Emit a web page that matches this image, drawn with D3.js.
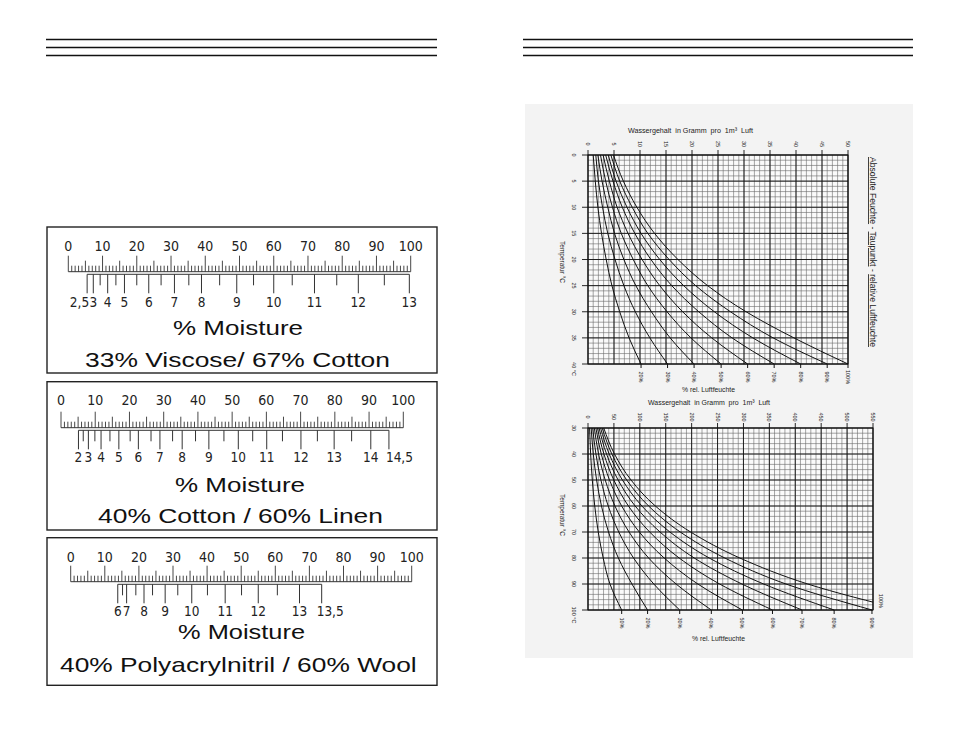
<!DOCTYPE html>
<html>
<head>
<meta charset="utf-8">
<script src="https://cdn.jsdelivr.net/npm/d3@7.9.0/dist/d3.min.js"></script>
<style>
  body { margin: 0; background: #fff; }
  .rule { font-family: "Liberation Sans Narrow", "DejaVu Sans Condensed", sans-serif; fill: #222; }
  .big { font-family: "Liberation Sans", Arial, sans-serif; fill: #111; }
  .small { font-family: "Liberation Sans", Arial, sans-serif; fill: #222; }
</style>
</head>
<body>
<svg id="page" width="954" height="737"></svg>
<script>
// ---- moisture rulers: moisture value -> reading on the 0..100 scale
const rulerLabels = [0, 10, 20, 30, 40, 50, 60, 70, 80, 90, 100];

const viscoseMoisture = [2.5, 3, 3.5, 4, 4.5, 5, 5.5, 6, 6.5, 7, 7.5, 8, 8.5, 9, 9.5, 10, 10.5, 11, 11.5, 12, 12.5, 13];
const viscoseReading  = [5.5, 7.3, 9.3, 11.5, 13.9, 16.4, 20.0, 23.5, 27.1, 31.0, 35.2, 38.9, 44.2, 49.2, 54.1, 60.0, 65.4, 71.9, 78.4, 84.7, 92.3, 99.6];
const viscoseLabels   = [2.5, 3, 4, 5, 6, 7, 8, 9, 10, 11, 12, 13];

const linenMoisture = [2, 2.5, 3, 3.5, 4, 4.5, 5, 5.5, 6, 6.5, 7, 7.5, 8, 8.5, 9, 9.5, 10, 10.5, 11, 11.5, 12, 12.5, 13, 13.5, 14, 14.5];
const linenReading  = [5.1, 6.5, 8.0, 9.9, 11.7, 14.3, 16.9, 20.2, 22.6, 26.3, 28.9, 32.6, 35.4, 39.3, 43.2, 47.6, 51.8, 56.0, 60.1, 64.7, 70.1, 74.9, 79.8, 84.9, 90.5, 95.8];
const linenLabels   = [2, 3, 4, 5, 6, 7, 8, 9, 10, 11, 12, 13, 14, 14.5];

const woolMoisture = [6, 6.5, 7, 7.5, 8, 8.5, 9, 9.5, 10, 10.5, 11, 11.5, 12, 12.5, 13, 13.5];
const woolReading  = [13.8, 15.2, 16.4, 19.1, 21.5, 24.0, 27.7, 31.4, 35.5, 40.1, 45.3, 50.1, 55.0, 60.6, 67.1, 73.6];
const woolLabels   = [6, 7, 8, 9, 10, 11, 12, 13, 13.5];

// ---- humidity charts: water content (g per m3) at each temperature, one row per rel. humidity
const temps1 = [0, 5, 10, 15, 20, 25, 30, 35, 40];
const rh1 = [20, 30, 40, 50, 60, 70, 80, 90, 100];
const water1 = [
  [1.0, 1.4, 1.9, 2.6, 3.5, 4.6, 6.1, 7.9, 10.2],
  [1.5, 2.0, 2.8, 3.8, 5.2, 6.9, 9.1, 11.9, 15.3],
  [1.9, 2.7, 3.8, 5.1, 6.9, 9.2, 12.2, 15.8, 20.4],
  [2.4, 3.4, 4.7, 6.4, 8.7, 11.5, 15.2, 19.8, 25.6],
  [2.9, 4.1, 5.6, 7.7, 10.4, 13.8, 18.2, 23.8, 30.7],
  [3.4, 4.8, 6.6, 9.0, 12.1, 16.1, 21.3, 27.7, 35.8],
  [3.9, 5.4, 7.5, 10.2, 13.8, 18.4, 24.3, 31.7, 40.9],
  [4.4, 6.1, 8.5, 11.5, 15.6, 20.7, 27.4, 35.6, 46.0],
  [4.9, 6.8, 9.4, 12.8, 17.3, 23.0, 30.4, 39.6, 50.0]
];
const xLabels1 = [0, 5, 10, 15, 20, 25, 30, 35, 40, 45, 50];
const yLabels1 = [0, 5, 10, 15, 20, 25, 30, 35, 40];

const temps2 = [30, 40, 50, 60, 70, 80, 90, 100];
const rh2 = [10, 20, 30, 40, 50, 60, 70, 80, 90, 100];
const water2 = [
  [3.0, 5.1, 8.3, 13, 19.8, 29.3, 42.4, 65],
  [6.1, 10.2, 16.6, 26, 39.6, 58.6, 84.8, 115],
  [9.1, 15.3, 24.9, 39, 59.4, 87.9, 127, 177],
  [12.2, 20.4, 33.2, 52, 79.2, 117, 170, 238],
  [15.2, 25.6, 41.5, 65, 99, 147, 212, 298],
  [18.2, 30.7, 49.8, 78, 119, 176, 254, 356],
  [21.3, 35.8, 58.1, 91, 139, 205, 297, 413],
  [24.3, 40.9, 66.4, 104, 158, 234, 339, 475],
  [27.4, 46.0, 74.7, 117, 178, 264, 382, 548],
  [30.4, 51.1, 83.0, 130, 198, 293, 424, 610]
];
const xLabels2 = [0, 50, 100, 150, 200, 250, 300, 350, 400, 450, 500, 550];
const yLabels2 = [30, 40, 50, 60, 70, 80, 90, 100];

const svg = d3.select("#page");

// header rules on both pages
[[46, 437], [523, 913]].forEach(([x1, x2]) => {
  [39.5, 47.5, 55.5].forEach(y => {
    svg.append("line").attr("x1", x1).attr("x2", x2).attr("y1", y).attr("y2", y)
      .attr("stroke", "#111").attr("stroke-width", 1.3);
  });
});

// ---------- rulers ----------
const boxes = [
  { y: 227, h: 146, r0: 68.3, r1: 410.7, lineY: 271.7, topY: 251, labY: 307, moistY: 335, titleY: 366.7,
    moistX: [173, 303], titleX: [85, 390], title: "33% Viscose/ 67% Cotton",
    moisture: viscoseMoisture, reading: viscoseReading, labels: viscoseLabels },
  { y: 381.7, h: 148.3, r0: 61, r1: 403.3, lineY: 427.7, topY: 405, labY: 462, moistY: 491.7, titleY: 522.7,
    moistX: [175, 305], titleX: [98, 383], title: "40% Cotton / 60% Linen",
    moisture: linenMoisture, reading: linenReading, labels: linenLabels },
  { y: 537.7, h: 147.6, r0: 70.7, r1: 411.7, lineY: 581.7, topY: 561.7, labY: 615.5, moistY: 638.5, titleY: 671.7,
    moistX: [178, 305], titleX: [60, 416.7], title: "40% Polyacrylnitril / 60% Wool",
    moisture: woolMoisture, reading: woolReading, labels: woolLabels }
];

function fmt(v) { return String(v).replace(".", ","); }

boxes.forEach((b, bi) => {
  let g = svg.append("g");
  g.append("rect").attr("x", 47).attr("y", b.y).attr("width", 390).attr("height", b.h)
    .attr("fill", "#fff").attr("stroke", "#222").attr("stroke-width", 1.4);

  let x = d3.scaleLinear().domain([0, 100]).range([b.r0, b.r1]);

  // upper 0..100 scale
  g.append("line").attr("x1", x(0)).attr("x2", x(100)).attr("y1", b.lineY).attr("y2", b.lineY)
    .attr("stroke", "#333").attr("stroke-width", 1);
  d3.range(0, 101).forEach(v => {
    let len = v % 10 === 0 ? 16 : (v % 5 === 0 ? 11 : 6);
    g.append("line").attr("x1", x(v)).attr("x2", x(v)).attr("y1", b.lineY).attr("y2", b.lineY - len)
      .attr("stroke", "#333").attr("stroke-width", 0.9);
  });
  rulerLabels.forEach(v => {
    g.append("text").attr("class", "rule").attr("x", x(v)).attr("y", b.topY)
      .attr("text-anchor", "middle").attr("font-size", 14).text(v);
  });

  // lower moisture scale
  let lowY = b.lineY + 2.6;
  g.append("line").attr("x1", x(b.reading[0])).attr("x2", x(b.reading[b.reading.length - 1]))
    .attr("y1", lowY).attr("y2", lowY).attr("stroke", "#333").attr("stroke-width", 1);
  b.moisture.forEach((m, i) => {
    let long = b.labels.includes(m);
    g.append("line").attr("x1", x(b.reading[i])).attr("x2", x(b.reading[i]))
      .attr("y1", lowY).attr("y2", lowY + (long ? 19 : 11))
      .attr("stroke", "#333").attr("stroke-width", 1);
  });
  b.labels.forEach((m, li) => {
    let i = b.moisture.indexOf(m);
    let anchor = "middle", dx = 0;
    if (m % 1 !== 0 && li === 0) { anchor = "end"; dx = 2; }
    if (m % 1 !== 0 && li === b.labels.length - 1) { anchor = "start"; dx = bi === 1 ? -3 : -5; }
    g.append("text").attr("class", "rule").attr("x", x(b.reading[i]) + dx).attr("y", b.labY)
      .attr("text-anchor", anchor).attr("font-size", 13.5).text(fmt(m));
  });

  g.append("text").attr("class", "big").attr("x", b.moistX[0]).attr("y", b.moistY)
    .attr("font-size", 21).attr("textLength", b.moistX[1] - b.moistX[0])
    .attr("lengthAdjust", "spacingAndGlyphs").text("% Moisture");
  g.append("text").attr("class", "big").attr("x", b.titleX[0]).attr("y", b.titleY)
    .attr("font-size", 21).attr("textLength", b.titleX[1] - b.titleX[0])
    .attr("lengthAdjust", "spacingAndGlyphs").text(b.title);
});

// ---------- humidity charts ----------
svg.append("rect").attr("x", 525).attr("y", 104).attr("width", 388).attr("height", 554).attr("fill", "#f3f3f3");

function vtext(g, x, y, str, size, anchor) {
  return g.append("text").attr("class", "small")
    .attr("transform", `translate(${x},${y}) rotate(90)`)
    .attr("text-anchor", anchor || "middle").attr("dy", "0.35em")
    .attr("font-size", size).text(str);
}

function drawChart(c) {
  let g = svg.append("g");
  let x = d3.scaleLinear().domain(c.xDomain).range(c.xRange);
  let y = d3.scaleLinear().domain(c.yDomain).range(c.yRange);

  g.append("rect").attr("x", c.xRange[0]).attr("y", c.yRange[0])
    .attr("width", c.xRange[1] - c.xRange[0]).attr("height", c.yRange[1] - c.yRange[0])
    .attr("fill", "#fafafa");

  // minor grid
  d3.range(c.xDomain[0], c.xDomain[1] + 0.001, c.xMinor).forEach(v => {
    g.append("line").attr("x1", x(v)).attr("x2", x(v)).attr("y1", c.yRange[0]).attr("y2", c.yRange[1])
      .attr("stroke", "#6a6a6a").attr("stroke-width", 0.6);
  });
  d3.range(c.yDomain[0], c.yDomain[1] + 0.001, c.yMinor).forEach(v => {
    g.append("line").attr("x1", c.xRange[0]).attr("x2", c.xRange[1]).attr("y1", y(v)).attr("y2", y(v))
      .attr("stroke", "#6a6a6a").attr("stroke-width", 0.6);
  });
  // major grid with small outer ticks
  c.xLabels.forEach(v => {
    g.append("line").attr("x1", x(v)).attr("x2", x(v)).attr("y1", c.yRange[0] - 5).attr("y2", c.yRange[1])
      .attr("stroke", "#111").attr("stroke-width", 0.9);
    vtext(g, x(v), c.yRange[0] - 11, v, 5.5);
  });
  c.yLabels.forEach((v, i) => {
    g.append("line").attr("x1", c.xRange[0] - 6).attr("x2", c.xRange[1]).attr("y1", y(v)).attr("y2", y(v))
      .attr("stroke", "#111").attr("stroke-width", 0.9);
    let last = i === c.yLabels.length - 1;
    vtext(g, 574, y(v) + (last ? 5 : 0), last ? v + " °C" : v, 5.5);
  });
  g.append("rect").attr("x", c.xRange[0]).attr("y", c.yRange[0])
    .attr("width", c.xRange[1] - c.xRange[0]).attr("height", c.yRange[1] - c.yRange[0])
    .attr("fill", "none").attr("stroke", "#111").attr("stroke-width", 1);

  // humidity curves
  let clipId = "clip" + c.id;
  g.append("clipPath").attr("id", clipId).append("rect")
    .attr("x", c.xRange[0]).attr("y", c.yRange[0] - 1)
    .attr("width", c.xRange[1] - c.xRange[0]).attr("height", c.yRange[1] - c.yRange[0] + 2);
  let line = d3.line().x(d => x(d[1])).y(d => y(d[0])).curve(d3.curveMonotoneY);
  c.water.forEach((row, i) => {
    let pts = c.temps.map((t, j) => [t, row[j]]);
    g.append("path").attr("d", line(pts)).attr("clip-path", `url(#${clipId})`)
      .attr("fill", "none").attr("stroke", "#111").attr("stroke-width", 1);

    let endX = row[row.length - 1];
    if (endX <= c.xDomain[1]) {
      g.append("line").attr("x1", x(endX)).attr("x2", x(endX))
        .attr("y1", c.yRange[1]).attr("y2", c.yRange[1] + 4).attr("stroke", "#111");
      vtext(g, x(endX), c.yRange[1] + 13, c.rh[i] + "%", 5.5);
    } else {
      vtext(g, c.xRange[1] + 8, y(c.sideLabelT), c.rh[i] + "%", 5.5);
    }
  });

  g.append("text").attr("class", "small").attr("x", c.titleX[0]).attr("y", c.titleY)
    .attr("font-size", 7.5).attr("textLength", c.titleX[1] - c.titleX[0])
    .attr("lengthAdjust", "spacingAndGlyphs")
    .text("Wassergehalt\u00a0\u00a0in Gramm\u00a0\u00a0pro\u00a0\u00a01m³\u00a0\u00a0Luft");
  g.append("text").attr("class", "small").attr("x", c.rhX[0]).attr("y", c.rhY)
    .attr("font-size", 7).attr("textLength", c.rhX[1] - c.rhX[0])
    .attr("lengthAdjust", "spacingAndGlyphs").text("% rel. Luftfeuchte");
  vtext(g, 562, c.tempY, "Temperatur  °C", 6.5);
}

drawChart({ id: 1, xDomain: [0, 50], xRange: [588, 848], yDomain: [0, 40], yRange: [155, 364],
  xMinor: 1, yMinor: 1, xLabels: xLabels1, yLabels: yLabels1,
  temps: temps1, water: water1, rh: rh1,
  titleX: [628, 753], titleY: 133, rhX: [682, 735], rhY: 392, tempY: 262 });

drawChart({ id: 2, xDomain: [0, 550], xRange: [588, 873], yDomain: [30, 100], yRange: [428, 610],
  xMinor: 10, yMinor: 2, xLabels: xLabels2, yLabels: yLabels2,
  temps: temps2, water: water2, rh: rh2, sideLabelT: 96.5,
  titleX: [648, 770], titleY: 405, rhX: [692, 745], rhY: 641, tempY: 515 });

// side title of the upper chart
let side = svg.append("text").attr("class", "small")
  .attr("transform", "translate(870,157) rotate(90)")
  .attr("font-size", 8.5).attr("textLength", 190).attr("lengthAdjust", "spacingAndGlyphs");
side.append("tspan").attr("text-decoration", "underline").text("Absolute Feuchte");
side.append("tspan").text(" - ");
side.append("tspan").attr("text-decoration", "underline").text("Taupunkt");
side.append("tspan").text(" - ");
side.append("tspan").attr("text-decoration", "underline").text("relative  Luftfeuchte");
</script>
</body>
</html>
